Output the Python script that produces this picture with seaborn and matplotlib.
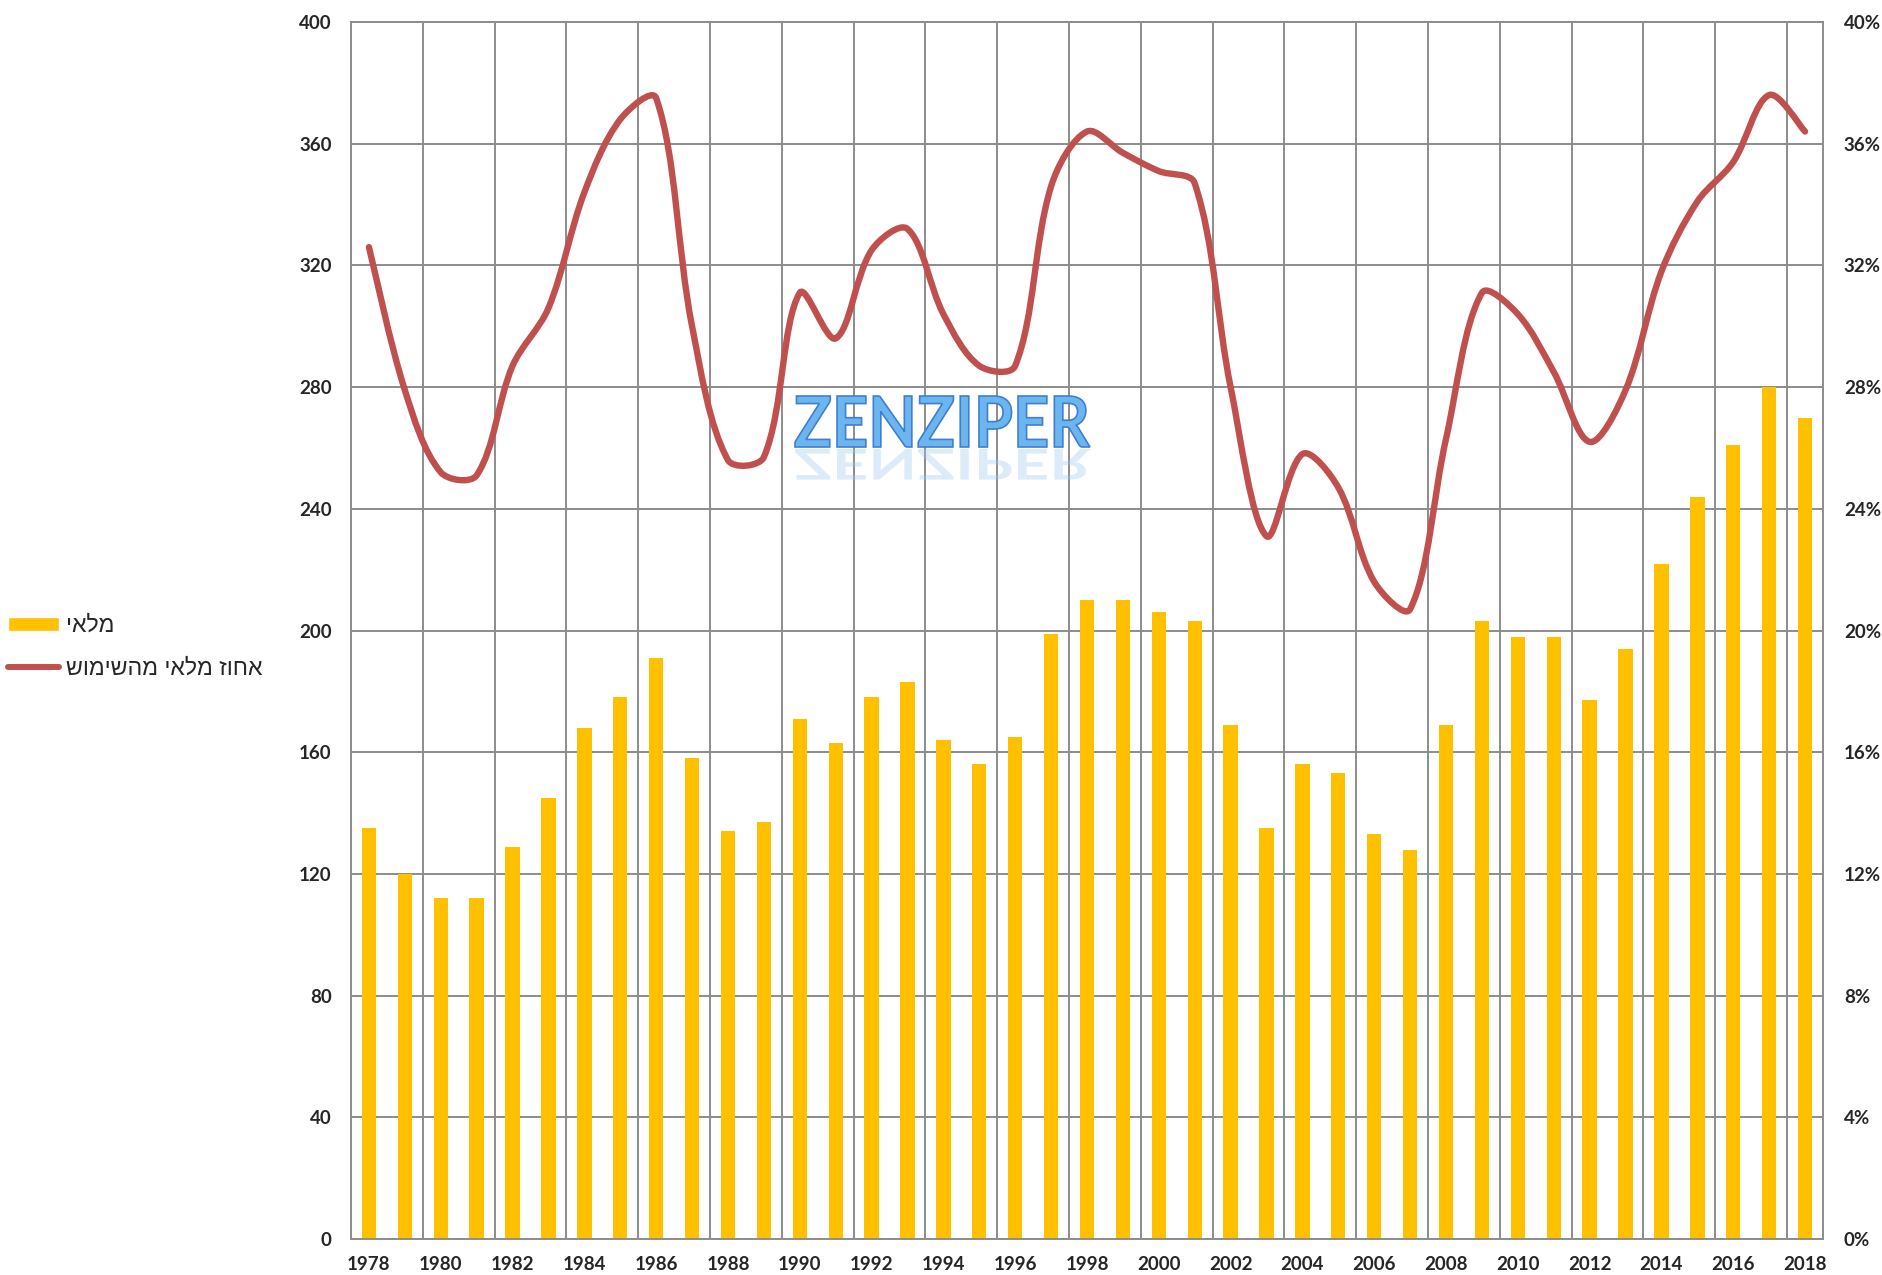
import numpy as np
import pandas as pd
import matplotlib
matplotlib.use("Agg")
import matplotlib.pyplot as plt
import matplotlib.transforms as mtransforms
import seaborn as sns
from matplotlib.path import Path
from matplotlib.patches import PathPatch, Patch
from matplotlib.lines import Line2D
from matplotlib.textpath import TextPath
from matplotlib.font_manager import FontProperties
from matplotlib.ticker import FuncFormatter

# values
years = list(range(1978, 2019))
inventory = [135, 120, 112, 112, 129, 145, 168, 178, 191, 158,
             134, 137, 171, 163, 178, 183, 164, 156, 165, 199,
             210, 210, 206, 203, 169, 135, 156, 153, 133, 128,
             169, 203, 198, 198, 177, 194, 222, 244, 261, 280,
             270]
inventory_pct = [32.6, 27.9, 25.2, 25.1, 28.7, 30.6, 34.4, 36.8, 37.5, 30.0,
                 25.6, 25.7, 31.1, 29.6, 32.5, 33.2, 30.4, 28.7, 28.7, 34.6,
                 36.4, 35.7, 35.1, 34.7, 28.0, 23.1, 25.8, 24.7, 21.6, 20.7,
                 26.3, 31.1, 30.4, 28.5, 26.2, 27.9, 31.8, 34.1, 35.4, 37.6,
                 36.4]
bar_label = "מלאי"
line_label = "אחוז מלאי מהשימוש"
watermark = "ZENZIPER"

BAR_COLOR = "#FFC000"
LINE_COLOR = "#C0504D"
GRID_COLOR = "#8c8c8c"


def visual(s):
    # matplotlib has no bidi support, hebrew has to be given in visual order
    return s[::-1]


def smooth_path(xs, ys, kx, ky):
    # excel-like smoothed line: bezier segments through every data point,
    # tangents weighted by segment length (kx, ky = pixels per data unit)
    pts = np.column_stack([xs, ys]).astype(float)
    n = len(pts)
    scale = np.array([kx, ky])

    def dist(a, b):
        return np.hypot(*((b - a) * scale))

    verts = [pts[0]]
    codes = [Path.MOVETO]
    for i in range(n - 1):
        p0 = pts[max(i - 1, 0)]
        p1 = pts[i]
        p2 = pts[i + 1]
        p3 = pts[min(i + 2, n - 1)]
        d01, d12, d23 = dist(p0, p1), dist(p1, p2), dist(p2, p3)
        w1 = d12 / (d01 + d12) if d01 > 0 else 0.5
        w2 = d12 / (d12 + d23) if d23 > 0 else 0.5
        c1 = p1 + (p2 - p0) * w1 / 3
        c2 = p2 - (p3 - p1) * w2 / 3
        verts += [c1, c2, p2]
        codes += [Path.CURVE4] * 3
    return Path(verts, codes)


sns.set_style("white")
plt.rcParams['font.family'] = ['Lato', 'DejaVu Sans']

df = pd.DataFrame({"year": [str(y) for y in years], "inventory": inventory})

W, H = 1883, 1275
left, right, top, bottom = 351, 1823, 22, 1239
fig = plt.figure(figsize=(W / 100, H / 100), dpi=100)
ax = fig.add_axes([left / W, 1 - bottom / H, (right - left) / W, (bottom - top) / H])

sns.barplot(data=df, x="year", y="inventory", color=BAR_COLOR, saturation=1,
            width=0.4, linewidth=0, ax=ax)
ax.set_xlim(-0.5, len(years) - 0.5)
ax.set_ylim(0, 400)
ax.set_yticks(range(0, 401, 40))
ax.set_xticks(range(0, len(years), 2))
ax.set_xticklabels([str(y) for y in years[::2]])
ax.set_xticks(np.arange(-0.5, len(years) - 1, 2), minor=True)
ax.set_xlabel("")
ax.set_ylabel("")
ax.set_axisbelow(True)
ax.grid(False)
ax.grid(which="major", axis="y", color=GRID_COLOR, lw=1.4)
ax.grid(which="minor", axis="x", color=GRID_COLOR, lw=1.4)
ax.tick_params(axis="y", which="both", length=0, pad=14, labelsize=13.5)
ax.tick_params(axis="x", which="both", length=0, pad=12, labelsize=13.5)
for lbl in ax.get_xticklabels() + ax.get_yticklabels():
    lbl.set_fontweight("bold")
for sp in ax.spines.values():
    sp.set_color(GRID_COLOR)
    sp.set_linewidth(1.4)

ax2 = ax.twinx()
ax2.set_ylim(0, 40)
ax2.set_yticks(range(0, 41, 4))
ax2.yaxis.set_major_formatter(FuncFormatter(lambda v, p: f"{v:.0f}%"))
ax2.tick_params(axis="y", length=0, pad=15, labelsize=13.5)
for lbl in ax2.get_yticklabels():
    lbl.set_fontweight("bold")
for sp in ax2.spines.values():
    sp.set_visible(False)
kx = (right - left) / len(years)
ky = (bottom - top) / 40
ax2.add_patch(PathPatch(smooth_path(np.arange(len(years)), inventory_pct, kx, ky),
                        facecolor="none", edgecolor=LINE_COLOR, lw=4.6,
                        capstyle="round", joinstyle="round"))
ax2.set_xlim(-0.5, len(years) - 0.5)

# legend on the left side
handles = [Patch(facecolor=BAR_COLOR, label=visual(bar_label)),
           Line2D([], [], color=LINE_COLOR, lw=4.3, solid_capstyle="round",
                  label=visual(line_label))]
fig.legend(handles=handles, loc="center left", bbox_to_anchor=(8 / W, 1 - 647 / H),
           frameon=False,
           prop=FontProperties(family=["Liberation Sans", "DejaVu Sans"], size=16.7,
                               weight="normal"),
           handlelength=2.2, handleheight=0.5, handletextpad=0.3, labelspacing=0.85,
           borderpad=0, borderaxespad=0)

# watermark with a faded reflection
tp = TextPath((0, 0), watermark, size=100, prop=FontProperties(family="Lato", weight="bold"))
ext = tp.get_extents()
sx = (1090 - 795) / ext.width
sy = (447 - 396) / ext.height
base = mtransforms.Affine2D().translate(-ext.x0, -ext.y0).scale(sx, sy)
main_tr = base + mtransforms.Affine2D().translate(795, H - 447)
refl_tr = base + mtransforms.Affine2D().scale(1, -0.6).translate(795, H - 449)
fig.add_artist(PathPatch(tp, transform=refl_tr, facecolor="#9cc8f0", edgecolor="none",
                         alpha=0.35))
fig.add_artist(PathPatch(tp, transform=main_tr, facecolor="#6cb6f0", edgecolor="#3f7fcf",
                         lw=1.2))

fig.savefig("out.png", dpi=100)
